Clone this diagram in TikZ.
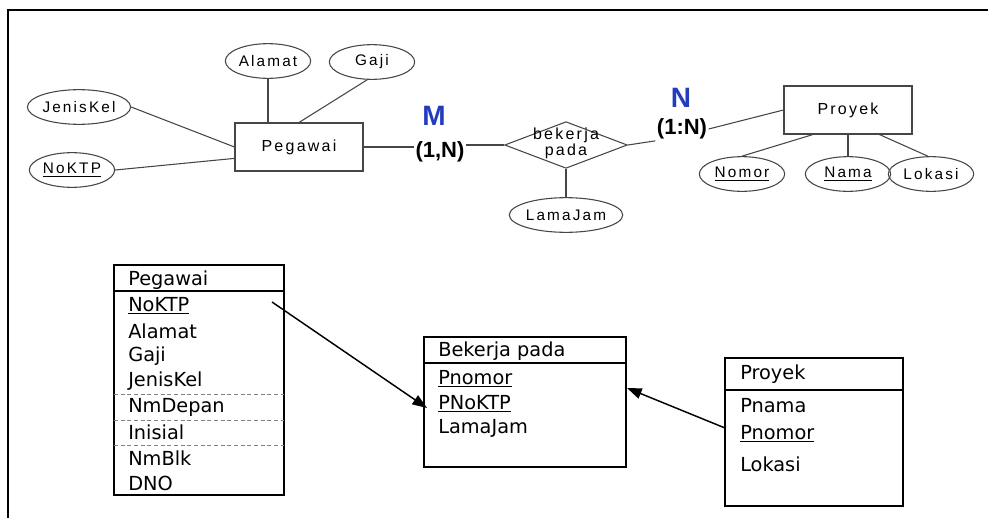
\documentclass[tikz,border=0pt]{standalone}
\usepackage{fontspec}
\setmainfont{DejaVu Sans}
\newfontfamily\erfont[LetterSpace=14]{Liberation Sans}
\newfontfamily\cardfont{Liberation Sans}
\usetikzlibrary{shapes.geometric,arrows.meta}
\definecolor{cardblue}{RGB}{35,60,190}
\definecolor{erline}{RGB}{70,70,70}
\tikzset{
  attr/.style={draw=erline, line width=0.8pt, ellipse, minimum width=64pt, minimum height=26pt, inner sep=0pt, font=\erfont\fontsize{11.5}{13}\selectfont},
  entity/.style={draw=erline, line width=0.8pt, rectangle, minimum width=96pt, minimum height=36pt, inner sep=0pt, font=\erfont\fontsize{12}{13}\selectfont},
  rel/.style={draw=erline, line width=0.8pt, diamond, minimum width=92pt, minimum height=35pt, inner sep=0pt},
  reltext/.style={align=center, inner sep=0pt, font=\erfont\fontsize{12}{12}\selectfont},
  card/.style={inner sep=1pt, font=\cardfont\bfseries\fontsize{16.5}{18}\selectfont},
  mult/.style={inner sep=0pt, text=cardblue, font=\cardfont\bfseries\fontsize{21}{24}\selectfont},
  erlink/.style={draw=erline, line width=0.8pt},
  tbl/.style={line width=1.4pt},
  rowsep/.style={gray, line width=0.6pt, densely dashed},
  rowtext/.style={anchor=west, inner sep=0pt, font=\fontsize{14.5}{17}\selectfont},
  fk/.style={line width=1.1pt, -{Triangle[length=11pt,width=8pt]}},
}
\begin{document}
\begin{tikzpicture}[x=0.75pt,y=0.75pt,yscale=-1,xscale=1]
\path[use as bounding box] (0,0) rectangle (988,518);

%Frame
\draw[line width=1.5pt] (8,518) -- (8,10) -- (988,10);

% Entity Pegawai and its attributes
\draw (299,147) node (pegawai) [entity] {Pegawai};
\draw (268,61) node (alamat) [attr] {Alamat};
\draw (372,62) node (gaji) [attr] {Gaji};
\draw (79,107) node (jeniskel) [attr] {JenisKel};
\draw (72,170) node (noktp) [attr] {\underline{NoKTP}};
%Straight Lines
\draw[erlink] (alamat.south) -- (alamat.south |- pegawai.north);
\draw[erlink] (gaji.255) -- (pegawai.north);
\draw[erlink] (jeniskel.east) -- (pegawai.west);
\draw[erlink] (noktp.east) -- (pegawai.190);

% Relationship bekerja pada
\draw (566,145) node (bekerja) [rel] {};
\draw (566,143) node (bekerjatxt) [reltext] {bekerja\\pada};
\draw (566,215) node (lamajam) [attr] {LamaJam};
\draw[erlink] (bekerja.south) -- (lamajam.north);

% Entity Proyek and its attributes
\draw (848,110) node (proyek) [entity] {Proyek};
\draw (742,174) node (nomor) [attr] {\underline{Nomor}};
\draw (848,174) node (nama) [attr] {\underline{Nama}};
\draw (931,174) node (lokasi) [attr] {Lokasi};
\draw[erlink] (proyek.215) -- (nomor.north);
\draw[erlink] (proyek.south) -- (nama.north);
\draw[erlink] (proyek.322) -- (lokasi.100);

% Cardinalities
\draw (434,116) node (multM) [mult] {M};
\draw (440,152) node (cardL) [card] {(1,N)};
\draw (681,98) node (multN) [mult] {N};
\draw (682,129) node (cardR) [card] {(1:N)};
\draw[erlink] (pegawai.east) -- (pegawai.east -| cardL.west);
\draw[erlink] (cardL.east |- bekerja.west) -- (bekerja.west);
\draw[erlink] (bekerja.east) -- (cardR.south west);
\draw[erlink] (cardR.east) -- (proyek.west);

%Shape: Table Pegawai
\draw[tbl] (114,265) rectangle (284,495);
\draw[tbl] (114,291) -- (284,291);
\draw[rowsep] (114,394) -- (284,394);
\draw[rowsep] (114,420) -- (284,420);
\draw[rowsep] (114,445) -- (284,445);
% Text Node
\draw (128,280) node (tpHead) [rowtext] {Pegawai};
\draw (128,306) node (tpNoKTP) [rowtext] {\underline{NoKTP}};
\draw (128,331) node (tpAlamat) [rowtext] {Alamat};
\draw (128,356) node (tpGaji) [rowtext] {Gaji};
\draw (128,381) node (tpJenisKel) [rowtext] {JenisKel};
\draw (128,407) node (tpNmDepan) [rowtext] {NmDepan};
\draw (128,432) node (tpInisial) [rowtext] {Inisial};
\draw (128,458) node (tpNmBlk) [rowtext] {NmBlk};
\draw (128,483) node (tpDNO) [rowtext] {DNO};

%Shape: Table Bekerja pada
\draw[tbl] (424,337) rectangle (626,467);
\draw[tbl] (424,363) -- (626,363);
% Text Node
\draw (438,351) node (tbHead) [rowtext] {Bekerja pada};
\draw (438,379) node (tbPnomor) [rowtext] {\underline{Pnomor}};
\draw (438,404) node (tbPNoKTP) [rowtext] {\underline{PNoKTP}};
\draw (438,428) node (tbLamaJam) [rowtext] {LamaJam};

%Shape: Table Proyek
\draw[tbl] (725,358) rectangle (903,506);
\draw[tbl] (725,390) -- (903,390);
% Text Node
\draw (740,374) node (tyHead) [rowtext] {Proyek};
\draw (740,406) node (tyPnama) [rowtext] {Pnama};
\draw (740,434) node (tyPnomor) [rowtext] {\underline{Pnomor}};
\draw (740,464) node (tyLokasi) [rowtext] {Lokasi};

% Foreign keys
\coordinate (fkPegawai) at (272,302);
\coordinate (fkBekerjaL) at (427,408);
\coordinate (fkProyek) at (725,428);
\coordinate (fkBekerjaR) at (627,388);
\draw[fk] (fkPegawai) -- (fkBekerjaL);
\draw[fk] (fkProyek) -- (fkBekerjaR);

\end{tikzpicture}
\end{document}
